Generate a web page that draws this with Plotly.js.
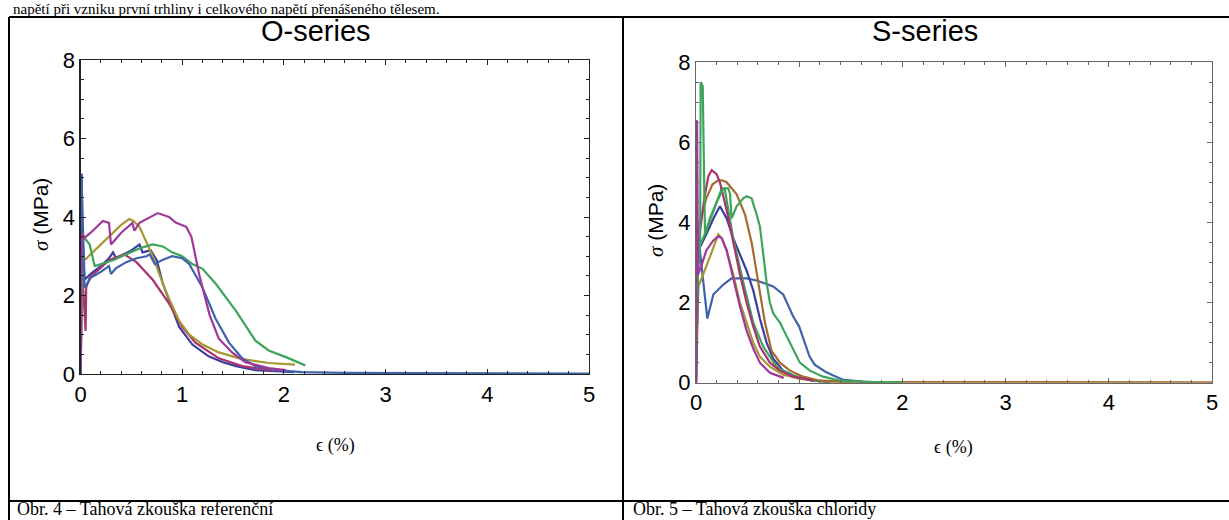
<!DOCTYPE html>
<html>
<head>
<meta charset="utf-8">
<script src="https://cdn.plot.ly/plotly-3.0.1.min.js"></script>
<style>
html,body{margin:0;padding:0;background:#fff;}
#chart{width:1229px;height:520px;}
</style>
</head>
<body>
<div id="chart"></div>
<script>
// ---------- Data: O-series (reference) ----------
const O_navy_x = [0, 0.01, 0.02, 0.04, 0.1, 0.2, 0.28, 0.32, 0.35, 0.42, 0.5, 0.58, 0.61, 0.69, 0.75, 0.81, 0.9, 0.97, 1.1, 1.26, 1.4, 1.53, 1.72, 1.98, 2.1];
const O_navy_y = [0, 5.1, 4.0, 2.4, 2.55, 2.75, 2.95, 3.1, 2.95, 3.05, 3.15, 3.3, 3.1, 3.15, 2.9, 2.3, 1.7, 1.2, 0.75, 0.45, 0.3, 0.2, 0.1, 0.06, 0.05];
const O_crimson_x = [0, 0.02, 0.05, 0.056, 0.09, 0.15, 0.28, 0.43, 0.55, 0.71, 0.87, 1.0, 1.13, 1.36, 1.59, 1.85, 2.02];
const O_crimson_y = [0, 2.5, 1.1, 2.2, 2.45, 2.6, 2.9, 3.05, 2.85, 2.4, 1.8, 1.2, 0.8, 0.4, 0.2, 0.1, 0.08];
const O_olive_x = [0, 0.02, 0.1, 0.2, 0.3, 0.4, 0.48, 0.52, 0.58, 0.71, 0.84, 0.97, 1.07, 1.2, 1.36, 1.59, 1.85, 2.11];
const O_olive_y = [0, 2.85, 3.05, 3.3, 3.55, 3.8, 3.95, 3.9, 3.75, 3.0, 2.1, 1.35, 1.0, 0.75, 0.55, 0.38, 0.28, 0.24];
const O_purple_x = [0, 0.01, 0.03, 0.1, 0.22, 0.28, 0.30, 0.4, 0.51, 0.53, 0.58, 0.69, 0.76, 0.87, 0.94, 1.04, 1.09, 1.17, 1.27, 1.36, 1.49, 1.62, 1.85, 2.02];
const O_purple_y = [0, 3.6, 3.45, 3.6, 3.9, 3.85, 3.3, 3.6, 3.85, 3.65, 3.85, 4.0, 4.1, 4.0, 3.85, 3.75, 3.5, 2.5, 1.5, 0.9, 0.55, 0.3, 0.15, 0.1];
const O_green_x = [0, 0.02, 0.03, 0.09, 0.14, 0.2, 0.32, 0.45, 0.58, 0.71, 0.81, 0.9, 1.0, 1.1, 1.2, 1.33, 1.53, 1.72, 1.85, 2.02, 2.21];
const O_green_y = [0, 3.6, 3.5, 3.3, 2.75, 2.8, 2.9, 3.05, 3.2, 3.3, 3.25, 3.1, 3.0, 2.8, 2.68, 2.3, 1.6, 0.85, 0.6, 0.43, 0.22];
const O_steel_x = [0, 0.01, 0.02, 0.04, 0.1, 0.2, 0.28, 0.3, 0.35, 0.45, 0.55, 0.65, 0.68, 0.73, 0.8, 0.9, 1.0, 1.07, 1.2, 1.33, 1.46, 1.59, 1.72, 1.92, 2.18, 2.6, 3.3, 4.0, 5.0];
const O_steel_y = [0, 5.1, 3.5, 2.2, 2.45, 2.6, 2.75, 2.55, 2.7, 2.85, 2.95, 3.0, 3.05, 2.8, 2.9, 3.0, 2.95, 2.8, 2.2, 1.4, 0.8, 0.4, 0.2, 0.1, 0.05, 0.03, 0.02, 0.01, 0.01];

// ---------- Data: S-series (chlorides) ----------
const S_greenB_x = [0, 0.002, 0.04, 0.045, 0.065, 0.087, 0.135, 0.2, 0.265, 0.313, 0.33, 0.345, 0.394, 0.458, 0.49, 0.539, 0.587, 0.619, 0.652, 0.684, 0.716, 0.748, 0.813, 0.91, 1.006, 1.103, 1.232, 1.4, 1.65, 2.0];
const S_greenB_y = [0, 2.0, 3.5, 7.5, 7.4, 3.7, 4.1, 4.5, 4.85, 4.85, 4.7, 4.1, 4.4, 4.6, 4.65, 4.6, 4.2, 3.9, 3.2, 2.5, 2.0, 1.73, 1.5, 1.0, 0.5, 0.3, 0.15, 0.05, 0.02, 0.01];
const S_greenA_x = [0, 0.02, 0.1, 0.17, 0.25, 0.28, 0.361, 0.458, 0.555, 0.652, 0.78, 0.91, 1.1, 1.3];
const S_greenA_y = [0, 3.3, 3.8, 4.3, 4.85, 4.8, 3.6, 2.5, 1.5, 0.9, 0.4, 0.2, 0.07, 0.02];
const S_purple_x = [0, 0.005, 0.01, 0.02, 0.05, 0.1, 0.168, 0.216, 0.25, 0.297, 0.361, 0.426, 0.49, 0.555, 0.619, 0.716, 0.85];
const S_purple_y = [0, 6.55, 6.5, 2.7, 2.9, 3.3, 3.55, 3.65, 3.6, 3.3, 2.6, 1.9, 1.3, 0.85, 0.5, 0.25, 0.12];
const S_crimson_x = [0, 0.01, 0.03, 0.08, 0.12, 0.152, 0.2, 0.232, 0.297, 0.361, 0.426, 0.49, 0.555, 0.619, 0.716, 0.813, 0.942, 1.135];
const S_crimson_y = [0, 3.0, 3.6, 4.6, 5.15, 5.3, 5.2, 5.0, 4.3, 3.5, 2.7, 2.0, 1.4, 0.9, 0.5, 0.3, 0.15, 0.05];
const S_brown_x = [0, 0.013, 0.05, 0.1, 0.16, 0.216, 0.25, 0.297, 0.394, 0.474, 0.539, 0.603, 0.668, 0.732, 0.813, 0.91, 1.039, 1.2, 1.5, 2.0, 3.0, 4.0, 5.0];
const S_brown_y = [0, 3.4, 4.1, 4.6, 4.95, 5.05, 5.05, 5.0, 4.7, 4.2, 3.5, 2.5, 1.5, 0.8, 0.5, 0.3, 0.15, 0.05, 0.02, 0.015, 0.01, 0.01, 0.01];
const S_navy_x = [0, 0.023, 0.1, 0.17, 0.232, 0.297, 0.361, 0.426, 0.49, 0.555, 0.619, 0.684, 0.748, 0.845, 0.974, 1.135, 1.3];
const S_navy_y = [0, 3.3, 3.7, 4.1, 4.4, 4.1, 3.6, 3.2, 2.8, 2.3, 1.6, 1.0, 0.6, 0.3, 0.15, 0.05, 0.02];
const S_steel_x = [0, 0.005, 0.01, 0.05, 0.11, 0.168, 0.265, 0.345, 0.49, 0.587, 0.684, 0.748, 0.845, 0.942, 1.0, 1.04, 1.1, 1.15, 1.25, 1.33, 1.42, 1.6, 1.8];
const S_steel_y = [0, 4.5, 4.0, 3.0, 1.6, 2.2, 2.45, 2.6, 2.6, 2.55, 2.45, 2.4, 2.2, 1.65, 1.4, 1.1, 0.65, 0.45, 0.28, 0.18, 0.08, 0.03, 0.01];
const S_olive_x = [0, 0.023, 0.1, 0.168, 0.216, 0.25, 0.297, 0.361, 0.426, 0.49, 0.555, 0.619, 0.716, 0.845, 1.0, 1.2, 1.5];
const S_olive_y = [0, 2.4, 2.9, 3.4, 3.7, 3.6, 3.3, 2.7, 2.0, 1.5, 1.0, 0.65, 0.4, 0.2, 0.1, 0.03, 0.01];

// Axis tick values / labels
const xTickVals = [0, 1, 2, 3, 4, 5];
const yTickVals = [0, 2, 4, 6, 8];

// ---------- Layout geometry (pixels in 1229x520 page) ----------
const W = 1229, H = 520;
const px = v => v / W;
const py = v => 1 - v / H;

const C = {
  navy: '#3b3e9e', crimson: '#a9336f', olive: '#a8962f', green: '#3fa45b',
  steel: '#3e63ab', purple: '#a2379b', brown: '#a56b2e'
};

function tr(x, y, color, xa, ya) {
  return {x: x, y: y, type: 'scatter', mode: 'lines', xaxis: xa, yaxis: ya,
    line: {color: color, width: 2.2}, hoverinfo: 'skip', showlegend: false};
}

const data = [
  tr(O_navy_x, O_navy_y, C.navy, 'x', 'y'),
  tr(O_crimson_x, O_crimson_y, C.crimson, 'x', 'y'),
  tr(O_olive_x, O_olive_y, C.olive, 'x', 'y'),
  tr(O_green_x, O_green_y, C.green, 'x', 'y'),
  tr(O_steel_x, O_steel_y, C.steel, 'x', 'y'),
  tr(O_purple_x, O_purple_y, C.purple, 'x', 'y'),

  tr(S_steel_x, S_steel_y, C.steel, 'x2', 'y2'),
  tr(S_olive_x, S_olive_y, C.olive, 'x2', 'y2'),
  tr(S_navy_x, S_navy_y, C.navy, 'x2', 'y2'),
  tr(S_greenA_x, S_greenA_y, C.green, 'x2', 'y2'),
  tr(S_brown_x, S_brown_y, C.brown, 'x2', 'y2'),
  tr(S_crimson_x, S_crimson_y, C.crimson, 'x2', 'y2'),
  tr(S_greenB_x, S_greenB_y, C.green, 'x2', 'y2'),
  tr(S_purple_x, S_purple_y, C.purple, 'x2', 'y2')
];

const tickFont = {family: 'Liberation Sans, Arial, sans-serif', size: 22, color: '#000'};

function xAxis(domain, color, anchor) {
  return {
    domain: domain, anchor: anchor, range: [0, 5], tickmode: 'array', tickvals: xTickVals,
    ticktext: xTickVals.map(String),
    ticks: 'inside', ticklen: 5, tickwidth: 1, tickcolor: color,
    showline: true, linecolor: color, linewidth: 1.2, mirror: 'allticks',
    minor: {dtick: 0.2, tick0: 0, ticks: 'inside', ticklen: 3, tickcolor: color, showgrid: false},
    showgrid: false, zeroline: false, tickfont: tickFont, fixedrange: true
  };
}
function yAxis(domain, color, anchor) {
  return {
    domain: domain, anchor: anchor, range: [0, 8], tickmode: 'array', tickvals: yTickVals,
    ticktext: yTickVals.map(String),
    ticks: 'inside', ticklen: 5, tickwidth: 1, tickcolor: color,
    showline: true, linecolor: color, linewidth: 1.2, mirror: 'allticks',
    minor: {dtick: 0.5, tick0: 0, ticks: 'inside', ticklen: 3, tickcolor: color, showgrid: false},
    showgrid: false, zeroline: false, tickfont: tickFont, fixedrange: true
  };
}

const serif = 'Liberation Serif, Times New Roman, serif';
const sans = 'Liberation Sans, Arial, sans-serif';

function ann(text, x, y, opts) {
  return Object.assign({text: text, x: px(x), y: py(y), xref: 'paper', yref: 'paper',
    showarrow: false, xanchor: 'center', yanchor: 'middle', borderpad: 0}, opts || {});
}

const sigmaTitle = '<span style="font-family:Liberation Serif"><i>σ</i></span> (MPa)';

const annotations = [
  ann('napětí při vzniku první trhliny i celkového napětí přenášeného tělesem.', 12, 0,
      {xanchor: 'left', yanchor: 'top', font: {family: serif, size: 15, color: '#000'}}),
  ann('O-series', 316, 31, {font: {family: sans, size: 29, color: '#000'}}),
  ann('S-series', 925, 31, {font: {family: sans, size: 29, color: '#000'}}),
  ann(sigmaTitle, 41, 215, {textangle: -90, font: {family: sans, size: 21, color: '#000'}}),
  ann(sigmaTitle, 656, 221, {textangle: -90, font: {family: sans, size: 21, color: '#000'}}),
  ann('ϵ (%)', 335, 445, {font: {family: serif, size: 18, color: '#000'}}),
  ann('ϵ (%)', 954, 447, {font: {family: serif, size: 18, color: '#000'}}),
  ann('Obr. 4 – Tahová zkouška referenční', 16, 520,
      {xanchor: 'left', yanchor: 'bottom', font: {family: serif, size: 18, color: '#000'}}),
  ann('Obr. 5 – Tahová zkouška chloridy', 632, 520,
      {xanchor: 'left', yanchor: 'bottom', font: {family: serif, size: 18, color: '#000'}})
];

function line(x0, y0, x1, y1, w) {
  return {type: 'line', xref: 'paper', yref: 'paper', x0: px(x0), y0: py(y0), x1: px(x1), y1: py(y1),
    line: {color: '#000', width: w}, layer: 'above'};
}

const shapes = [
  line(9, 17, W, 17, 2),
  line(9, 17, 9, H, 2),
  line(623, 17, 623, H, 2),
  line(9, 501, W, 501, 2)
];

const layout = {
  width: W, height: H,
  margin: {l: 0, r: 0, t: 0, b: 0, pad: 0},
  paper_bgcolor: '#fff', plot_bgcolor: '#fff',
  showlegend: false,
  xaxis: xAxis([px(80.5), px(589)], '#222', 'y'),
  yaxis: yAxis([py(374), py(60)], '#222', 'x'),
  xaxis2: xAxis([px(696), px(1212)], '#666', 'y2'),
  yaxis2: yAxis([py(382.7), py(62)], '#666', 'x2'),
  annotations: annotations,
  shapes: shapes
};

Plotly.newPlot('chart', data, layout, {staticPlot: true, displayModeBar: false});
</script>
</body>
</html>
